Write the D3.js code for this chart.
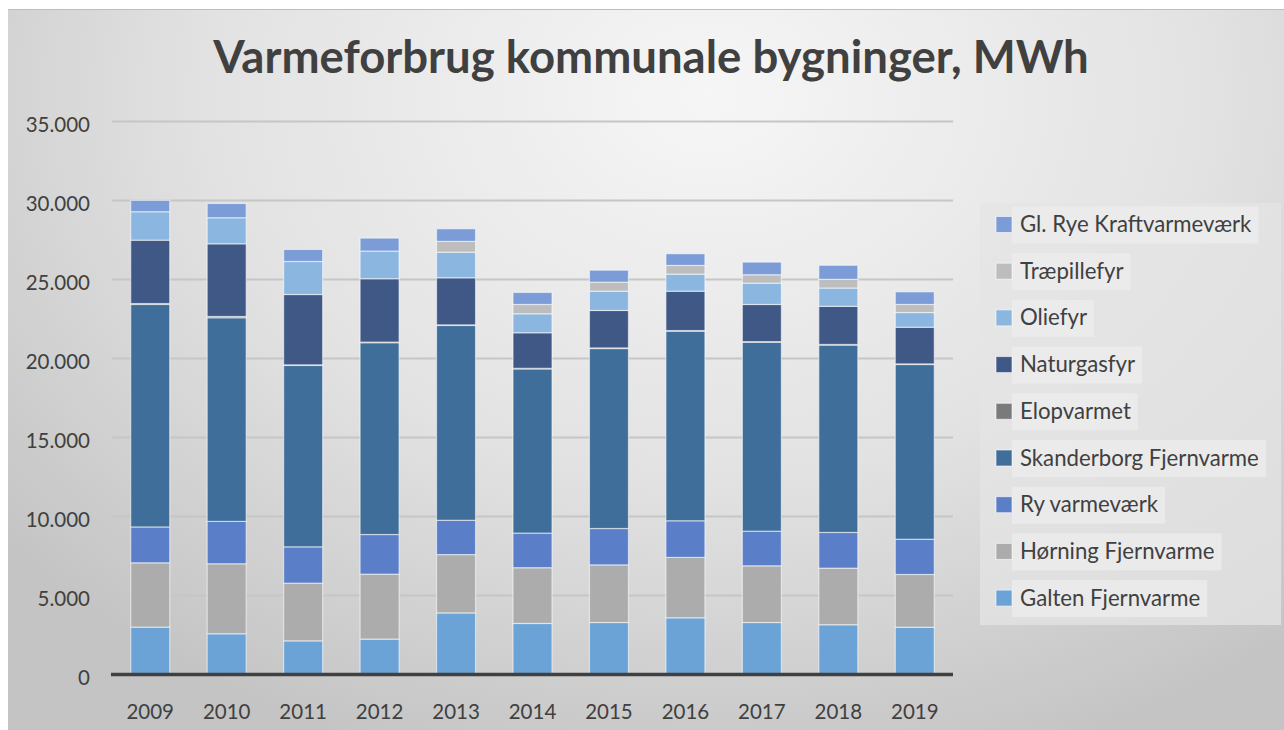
<!DOCTYPE html>
<html><head><meta charset="utf-8">
<script src="https://cdn.jsdelivr.net/npm/d3@7"></script>
<style>
html,body{margin:0;padding:0;background:#fff;overflow:hidden}
svg{display:block}
text{font-family:Lato,"Open Sans",sans-serif}
</style></head>
<body>
<script>
const years = ["2009","2010","2011","2012","2013","2014","2015","2016","2017","2018","2019"];
const seriesNames = ["Galten Fjernvarme","Hørning Fjernvarme","Ry varmeværk","Skanderborg Fjernvarme","Elopvarmet","Naturgasfyr","Oliefyr","Træpillefyr","Gl. Rye Kraftvarmeværk"];
const galten      = [3000,2580,2130,2240,3900,3230,3290,3590,3290,3150,2990];
const horning     = [4070,4430,3650,4110,3690,3530,3650,3820,3590,3580,3340];
const ry          = [2270,2680,2300,2510,2170,2190,2300,2320,2190,2260,2230];
const skanderborg = [14080,12890,11480,12140,12330,10390,11390,12000,11960,11860,11060];
const elop        = [60,80,40,40,40,40,40,40,40,40,40];
const naturgas    = [4010,4600,4450,4010,2980,2250,2370,2490,2350,2410,2320];
const oliefyr     = [1800,1650,2090,1750,1620,1200,1220,1080,1350,1160,930];
const traepille   = [0,0,0,0,680,590,570,550,530,550,510];
const glRye       = [720,900,760,820,800,760,760,740,800,890,800];
const yTicks = [0,5000,10000,15000,20000,25000,30000,35000];
const colors = ["#6ba3d6","#acacac","#5a7fc8","#3e6e99","#7a7a7a","#3f5886","#8ab6df","#bdbdbd","#7b9cd6"];

const W=1284,H=730;
const svg=d3.select("body").append("svg").attr("width",W).attr("height",H);
const defs=svg.append("defs");
const rg=defs.append("radialGradient").attr("id","bg").attr("cx","0.55").attr("cy","0.12").attr("r","0.72")
  .attr("gradientTransform","translate(0.55 0.12) scale(1 1.35) translate(-0.55 -0.12)");
rg.append("stop").attr("offset","0").attr("stop-color","#f6f6f6");
rg.append("stop").attr("offset","0.55").attr("stop-color","#e2e2e2");
rg.append("stop").attr("offset","1").attr("stop-color","#c4c4c4");

svg.append("rect").attr("x",0).attr("y",0).attr("width",W).attr("height",H).attr("fill","#ffffff");
svg.append("rect").attr("x",8).attr("y",9).attr("width",W-8).attr("height",H-9).attr("fill","url(#bg)");
svg.append("line").attr("x1",8).attr("x2",W).attr("y1",9.5).attr("y2",9.5).attr("stroke","#bdbdbd").attr("stroke-width",1);

svg.append("text").attr("x",651).attr("y",73).attr("text-anchor","middle")
  .attr("font-size",45.5).attr("font-weight",700).attr("fill","#404040")
  .text("Varmeforbrug kommunale bygninger, MWh");

const x=d3.scaleBand().domain(years).range([112,953]).paddingInner(0.49).paddingOuter(0.245);
const y=d3.scaleLinear().domain([0,35000]).range([674.5,121.5]);

const grid=svg.append("g");
grid.selectAll("line").data(yTicks.filter(d=>d>0)).join("line")
  .attr("x1",112).attr("x2",953).attr("y1",d=>y(d)).attr("y2",d=>y(d))
  .attr("stroke","#c6c6c6").attr("stroke-width",2);

const yAxis=d3.axisLeft(y).tickValues(yTicks).tickSize(0).tickPadding(22)
  .tickFormat(d=>d3.format(",")(d).replace(/,/g,"."));
const ya=svg.append("g").attr("transform","translate(112,3)").call(yAxis);
ya.select(".domain").remove();
ya.selectAll("text").attr("font-size",20.5).attr("fill","#404040").attr("font-family","Lato");

const dataRows=years.map((yr,i)=>{
  const o={year:yr};
  const arrs=[galten,horning,ry,skanderborg,elop,naturgas,oliefyr,traepille,glRye];
  seriesNames.forEach((s,j)=>o[s]=arrs[j][i]);
  return o;
});
const stack=d3.stack().keys(seriesNames)(dataRows);
const gb=svg.append("g");
stack.forEach((layer,j)=>{
  gb.append("g").selectAll("rect").data(layer).join("rect")
    .attr("x",d=>x(d.data.year)).attr("width",x.bandwidth())
    .attr("y",d=>y(d[1])).attr("height",d=>Math.max(0,y(d[0])-y(d[1])))
    .attr("fill",colors[j]).attr("stroke","rgba(255,255,255,0.55)").attr("stroke-width",1.2)
    .attr("display",d=>d[1]-d[0]>0?null:"none");
});

svg.append("line").attr("x1",111).attr("x2",953).attr("y1",y(0)).attr("y2",y(0))
  .attr("stroke","#404040").attr("stroke-width",3.5);

const xAxis=d3.axisBottom(x).tickSize(0).tickPadding(30);
const xa=svg.append("g").attr("transform",`translate(0,${y(0)})`).call(xAxis);
xa.select(".domain").remove();
xa.selectAll("text").attr("font-size",20.5).attr("fill","#404040").attr("font-family","Lato");

// legend
const lg=svg.append("g");
lg.append("rect").attr("x",980).attr("y",203).attr("width",301).attr("height",422).attr("fill","#e4e4e4").attr("opacity",0.75);
const legendOrder=seriesNames.slice().reverse();
const li=lg.selectAll("g.item").data(legendOrder).join("g").attr("class","item")
  .attr("transform",(d,i)=>`translate(0,${224.5+i*46.7})`);
const txt=li.append("text").attr("x",1020).attr("y",7.5).attr("font-size",22.2).attr("fill","#404040").text(d=>d);
li.each(function(){
  const g=d3.select(this);
  const w=g.select("text").node().getComputedTextLength();
  g.insert("rect","text").attr("x",1012).attr("y",-18).attr("width",w+15).attr("height",37).attr("fill","#ececec").attr("opacity",0.8);
});
li.append("rect").attr("x",996).attr("y",-8).attr("width",16).attr("height",16)
  .attr("fill",d=>colors[seriesNames.indexOf(d)]).attr("stroke","rgba(255,255,255,0.6)").attr("stroke-width",1);
</script>
</body></html>
